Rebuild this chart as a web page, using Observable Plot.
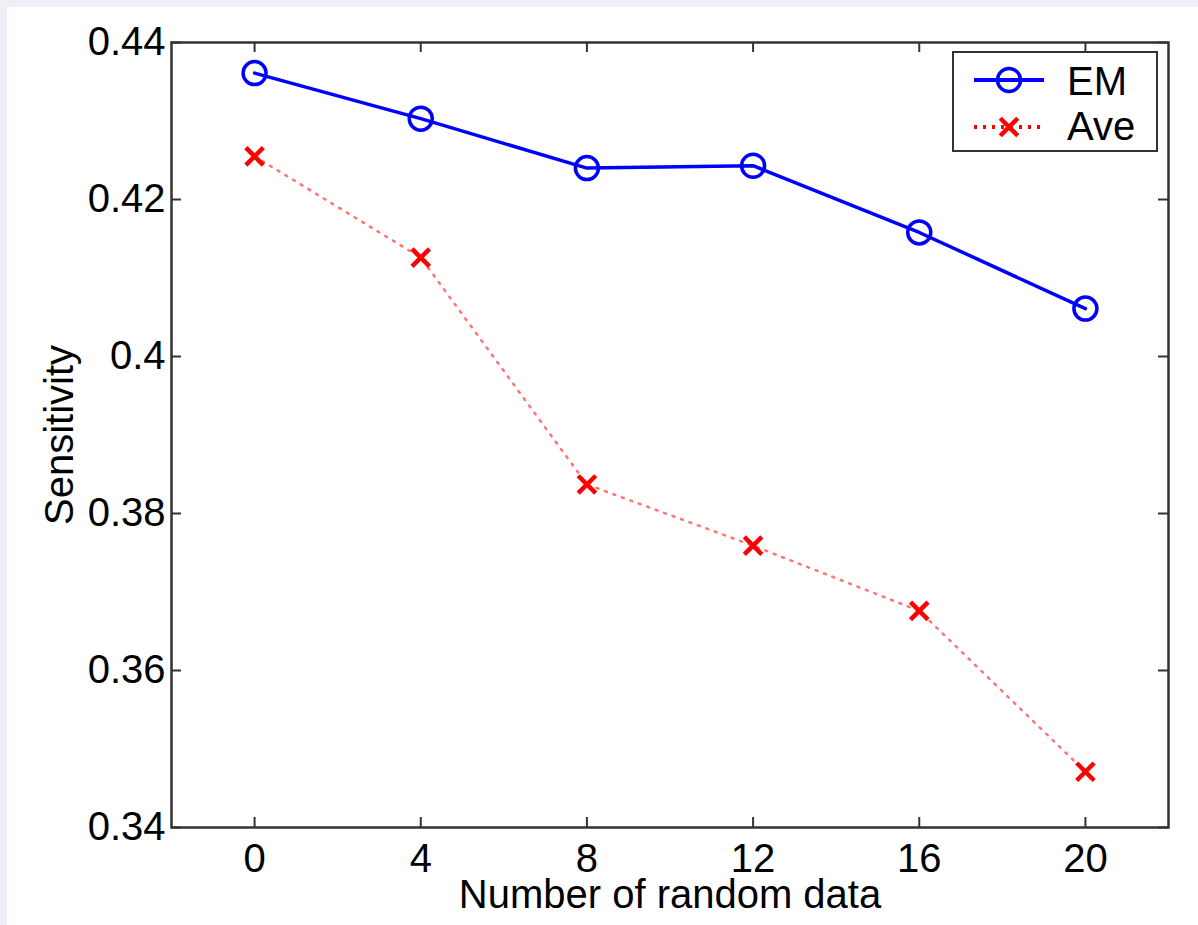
<!DOCTYPE html>
<html>
<head>
<meta charset="utf-8">
<script src="https://cdn.jsdelivr.net/npm/d3@7"></script>
<script src="https://cdn.jsdelivr.net/npm/@observablehq/plot@0.6"></script>
<style>
  html, body { margin: 0; padding: 0; }
  body { width: 1198px; height: 925px; background: #f1eefa; position: relative; overflow: hidden; font-family: "Liberation Sans", Arial, sans-serif; }
  #paper { position: absolute; left: 7px; top: 7px; right: 0; bottom: 0; background: #ffffff; }
  #chart { position: absolute; left: 0; top: 0; }
  #legend { position: absolute; left: 952px; top: 51px; width: 206px; height: 101px; box-sizing: border-box; border: 2px solid #333; background: #fff; }
</style>
</head>
<body>
<div id="paper"></div>
<div id="chart"></div>
<div id="legend"></div>
<script>
const xTicks = [0, 4, 8, 12, 16, 20];
const yTicks = [0.34, 0.36, 0.38, 0.40, 0.42, 0.44];
const xValues = [0, 4, 8, 12, 16, 20];
const emValues = [0.4361, 0.4303, 0.4240, 0.4243, 0.4158, 0.4061];
const aveValues = [0.4255, 0.4126, 0.3837, 0.3759, 0.3676, 0.3471];
const seriesNames = ["EM", "Ave"];
const xLabel = "Number of random data";
const yLabel = "Sensitivity";

const em = xValues.map((x, i) => ({x, y: emValues[i]}));
const ave = xValues.map((x, i) => ({x, y: aveValues[i]}));

const xDomain = [-2, 22];
const yDomain = [0.34, 0.44];
const tickLenX = (xDomain[1] - xDomain[0]) * 10 / 997;
const tickLenY = (yDomain[1] - yDomain[0]) * 10 / 785;
const fmt = d => String(+d.toFixed(2));
const FS = 40;

const chart = Plot.plot({
  width: 1198,
  height: 925,
  marginTop: 42,
  marginLeft: 171,
  marginRight: 30,
  marginBottom: 98,
  style: {fontFamily: "'Liberation Sans', Arial, sans-serif", fontSize: FS + "px", background: "transparent", color: "#000", overflow: "visible"},
  x: {domain: xDomain},
  y: {domain: yDomain},
  marks: [
    Plot.axisX({ticks: xTicks, tickSize: 0, tickPadding: 16, label: null, fontSize: FS, tickFormat: d => String(d)}),
    Plot.axisY({ticks: yTicks, tickSize: 0, tickPadding: 6, label: null, fontSize: FS, tickFormat: fmt}),
    Plot.ruleX(xTicks, {x: d => d, y1: yDomain[0], y2: yDomain[0] + tickLenY, stroke: "#333", strokeWidth: 2}),
    Plot.ruleX(xTicks, {x: d => d, y1: yDomain[1], y2: yDomain[1] - tickLenY, stroke: "#333", strokeWidth: 2}),
    Plot.ruleY(yTicks, {y: d => d, x1: xDomain[0], x2: xDomain[0] + tickLenX, stroke: "#333", strokeWidth: 2}),
    Plot.ruleY(yTicks, {y: d => d, x1: xDomain[1], x2: xDomain[1] - tickLenX, stroke: "#333", strokeWidth: 2}),
    Plot.frame({stroke: "#333", strokeWidth: 2.5}),
    Plot.line(ave, {x: "x", y: "y", stroke: "#ff0000", strokeWidth: 2.5, strokeOpacity: 0.55, strokeDasharray: "2,7"}),
    Plot.dot(ave, {x: "x", y: "y", symbol: "times", r: 8, stroke: "#ff0000", strokeWidth: 4.5}),
    Plot.line(em, {x: "x", y: "y", stroke: "#0000ff", strokeWidth: 3.5}),
    Plot.dot(em, {x: "x", y: "y", symbol: "circle", r: 11.5, stroke: "#0000ff", strokeWidth: 3.5, fill: "none"}),
    Plot.text([xLabel], {frameAnchor: "bottom", dy: 80, fontSize: FS, fill: "#000"}),
    Plot.text([yLabel], {frameAnchor: "left", textAnchor: "middle", dx: -111, rotate: -90, fontSize: FS, fill: "#000"})
  ]
});
document.getElementById("chart").appendChild(chart);

// Legend
const lg = d3.select("#legend").append("svg").attr("width", 202).attr("height", 97)
  .style("position", "absolute").style("left", "0").style("top", "0");
lg.append("line").attr("x1", 20).attr("x2", 90).attr("y1", 27).attr("y2", 27)
  .attr("stroke", "#0000ff").attr("stroke-width", 4);
lg.append("circle").attr("cx", 55).attr("cy", 27).attr("r", 11.5)
  .attr("fill", "none").attr("stroke", "#0000ff").attr("stroke-width", 3.5);
lg.append("line").attr("x1", 20).attr("x2", 90).attr("y1", 74).attr("y2", 74)
  .attr("stroke", "#ff0000").attr("stroke-width", 4).attr("stroke-dasharray", "3,6");
lg.append("path").attr("d", d3.symbol(d3.symbolTimes, Math.PI * 8 * 8)())
  .attr("transform", "translate(55,74)")
  .attr("fill", "none").attr("stroke", "#ff0000").attr("stroke-width", 4.5);
lg.selectAll("text.lab").data(seriesNames).join("text")
  .attr("x", 113).attr("y", (d, i) => i === 0 ? 42 : 87)
  .attr("font-family", "'Liberation Sans', Arial, sans-serif").attr("font-size", FS)
  .attr("fill", "#000").text(d => d);
</script>
</body>
</html>
